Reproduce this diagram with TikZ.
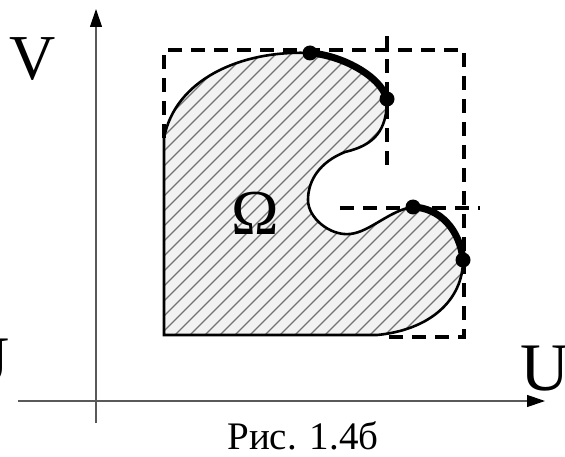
\documentclass[tikz,border=0pt]{standalone}
\usepackage{fontspec}
\setmainfont{Liberation Serif}
\usetikzlibrary{arrows.meta}
\begin{document}
\begin{tikzpicture}[x=1pt,y=-1pt,
  axis/.style={draw=black!65, line width=1.2pt},
  tip/.style={-{Triangle[length=18pt,width=12pt,color=black]}},
  dashline/.style={line width=3.8pt, dash pattern=on 14pt off 9pt, black},
  outline/.style={line width=2.6pt},
  thickarc/.style={line width=7pt},
  hatch/.style={draw=black!55, line width=1.3pt},
  dot/.style={circle, fill=black, inner sep=0pt, minimum size=15pt},
  lbl/.style={inner sep=0pt, anchor=base}]
\useasboundingbox (0,0) rectangle (565,457);

% key points
\coordinate (A) at (164,335);
\coordinate (B) at (164,138);
\coordinate (E) at (377,335);
\coordinate (p1) at (310,53);
\coordinate (p2) at (387,99);
\coordinate (p3) at (413,207);
\coordinate (p4) at (463,260);

\def\regionpath{(A) -- (B) .. controls (175,80) and (240,50) .. (p1)
  .. controls (340,55) and (380,75) .. (p2)
  .. controls (387,130) and (375,145) .. (345,152)
  .. controls (320,162) and (308,180) .. (308,200)
  .. controls (308,218) and (330,236) .. (350,234)
  .. controls (370,232) and (390,210) .. (p3)
  .. controls (440,208) and (460,230) .. (p4)
  .. controls (463,300) and (430,330) .. (E) -- cycle}

% axes
\coordinate (vb) at (96,423);
\coordinate (vt) at (96,9);
\coordinate (hl) at (18,401);
\coordinate (hr) at (545,401);
\draw[axis, tip] (vb) -- (vt);
\draw[axis, tip] (hl) -- (hr);

% region with hatching
\begin{scope}
  \clip \regionpath;
  \fill[black!5] (150,40) rectangle (480,345);
  \foreach \i in {-150,-135,...,470}
    \draw[hatch] (\i,345) -- ++(330,-330);
\end{scope}
\draw[outline] \regionpath;

% dashed guide lines
\coordinate (d1) at (164,138);
\coordinate (d2) at (164,50);
\coordinate (d3) at (464,50);
\coordinate (d4) at (464,337);
\coordinate (d5) at (383,337);
\coordinate (v1) at (387,165);
\coordinate (v2) at (387,33);
\coordinate (h1) at (340,208);
\coordinate (h2) at (480,208);
\draw[dashline] (d1) -- (d2) -- (d3) -- (d4) -- (d5);
\draw[dashline] (v1) -- (v2);
\draw[dashline] (h1) -- (h2);

% thick boundary arcs
\draw[thickarc] (p1) .. controls (340,55) and (380,75) .. (p2);
\draw[thickarc] (p3) .. controls (440,208) and (460,230) .. (p4);

% dots
\node[dot] (n1) at (p1) {};
\node[dot] (n2) at (p2) {};
\node[dot] (n3) at (p3) {};
\node[dot] (n4) at (p4) {};

% labels
\node[lbl, font=\fontsize{64}{70}\selectfont] (V) at (33,80) {V};
\node[lbl, font=\fontsize{68}{72}\selectfont] (Ul) at (-15,383) {U};
\node[lbl, font=\fontsize{68}{72}\selectfont] (Ur) at (545,390) {U};
\node[lbl, font=\fontsize{64}{70}\selectfont] (Om) at (255,235) {Ω};
\node[lbl, font=\fontsize{39}{44}\selectfont] (cap) at (303,449) {Рис. 1.4б};
\end{tikzpicture}
\end{document}
